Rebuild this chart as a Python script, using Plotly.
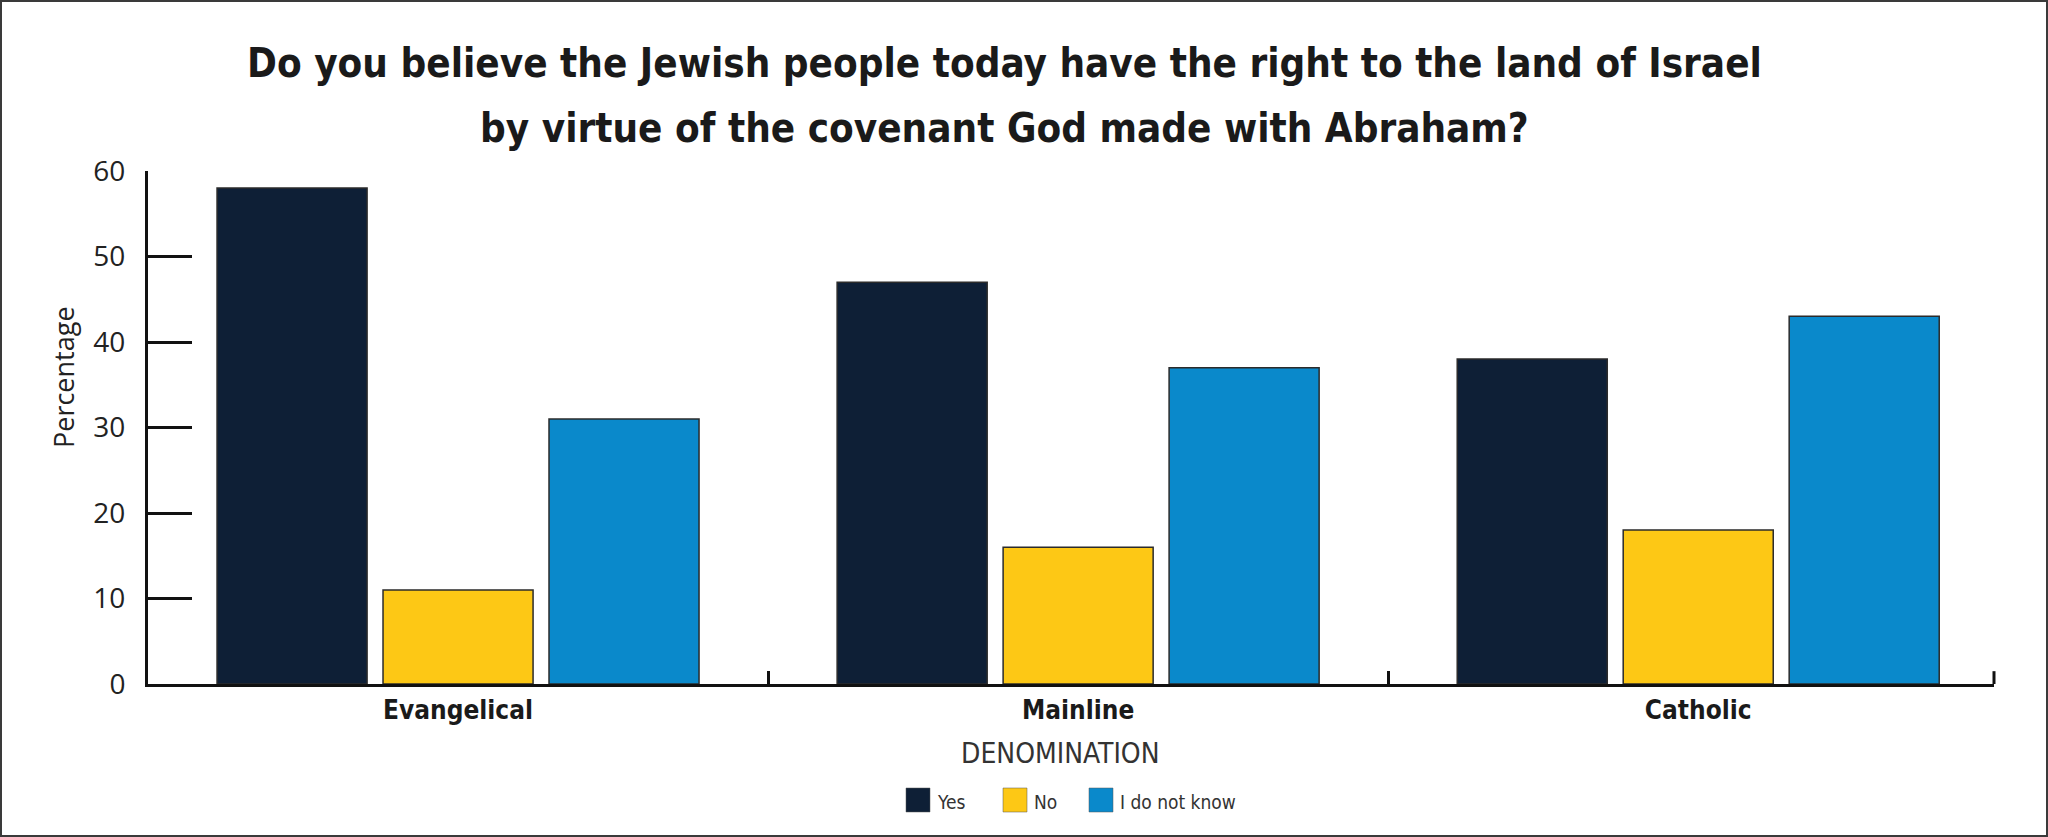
import plotly.graph_objects as go

# ---- data ----
categories = ["Evangelical", "Mainline", "Catholic"]
series_names = ["Yes", "No", "I do not know"]
yes_values = [58, 47, 38]
no_values = [11, 16, 18]
dont_know_values = [31, 37, 43]
y_ticks = [0, 10, 20, 30, 40, 50, 60]
title_lines = [
    "Do you believe the Jewish people today have the right to the land of Israel",
    "by virtue of the covenant God made with Abraham?",
]
x_title = "DENOMINATION"
y_title = "Percentage"

colors = ["#0e1f36", "#fdc815", "#0a89cb"]

# ---- layout geometry (pixels) ----
W, H = 2048, 837
L, R, T, B = 148, 54, 171, 153
PW, PH = W - L - R, H - T - B
X_RANGE = [-0.5, 2.477]


def px(x):
    return (x - L) / PW


def py(y):
    return (H - B - y) / PH


fig = go.Figure()
for name, vals, col in zip(series_names, [yes_values, no_values, dont_know_values], colors):
    fig.add_trace(go.Bar(
        name=name, x=categories, y=vals,
        marker=dict(color=col, line=dict(color="#2b2b2b", width=1.5)),
        showlegend=False,
    ))

cond_font = "DejaVu Sans Condensed, sans-serif"
reg_font = "Open Sans, Noto Sans, sans-serif"

annotations = []
# title lines
for line, yc in zip(title_lines, [63, 128]):
    annotations.append(dict(
        text="<b>" + line + "</b>", xref="paper", yref="paper",
        x=px(1004), y=py(yc), xanchor="center", yanchor="middle",
        showarrow=False, font=dict(family=cond_font, size=40, color="#1a1a1a"),
    ))
# axis titles
annotations.append(dict(
    text=x_title, xref="paper", yref="paper", x=px(1060), y=py(754),
    xanchor="center", yanchor="middle", showarrow=False,
    font=dict(family=cond_font, size=28, color="#333333"),
))
annotations.append(dict(
    text=y_title, xref="paper", yref="paper", x=px(63), y=py(377),
    xanchor="center", yanchor="middle", showarrow=False, textangle=-90,
    font=dict(family=reg_font, size=27, color="#222222"),
))

shapes = []
# custom legend with large swatches
legend_x = [906, 1003, 1089]
for name, col, lx in zip(series_names, colors, legend_x):
    shapes.append(dict(
        type="rect", xref="paper", yref="paper",
        x0=px(lx), x1=px(lx + 24), y0=py(812), y1=py(788),
        fillcolor=col, line=dict(color="#555555", width=0.5),
    ))
    annotations.append(dict(
        text=name, xref="paper", yref="paper", x=px(lx + 29), y=py(802),
        xanchor="left", yanchor="middle", showarrow=False,
        font=dict(family=cond_font, size=19, color="#333333"),
    ))
# closing tick at the right end of the x axis
shapes.append(dict(
    type="line", xref="paper", yref="y", x0=1, x1=1, y0=0, y1=1.5,
    line=dict(color="#111111", width=3),
))
# outer frame
shapes.append(dict(
    type="rect", xref="paper", yref="paper",
    x0=px(1), x1=px(W - 1), y0=py(H - 1), y1=py(1),
    line=dict(color="#3a3a3a", width=2), fillcolor="rgba(0,0,0,0)", layer="above",
))

fig.update_layout(
    width=W, height=H,
    margin=dict(l=L, r=R, t=T, b=B, pad=0),
    paper_bgcolor="white", plot_bgcolor="white",
    barmode="group", bargap=0.197, bargroupgap=0.096,
    showlegend=False,
    annotations=annotations, shapes=shapes,
    xaxis=dict(
        type="category", range=X_RANGE,
        showline=True, linecolor="#111111", linewidth=3,
        ticks="inside", tickson="boundaries", ticklen=13, tickwidth=3, tickcolor="#111111",
        showgrid=False, zeroline=False,
        tickfont=dict(family=cond_font, size=26, color="#1a1a1a", weight="bold"),
        ticklabelstandoff=1,
    ),
    yaxis=dict(
        range=[0, 60], tickvals=y_ticks,
        showline=True, linecolor="#111111", linewidth=3,
        ticks="inside", ticklen=44, tickwidth=3, tickcolor="#111111",
        showgrid=False, zeroline=False,
        tickfont=dict(family=reg_font, size=28, color="#222222"),
        ticklabelstandoff=14,
    ),
)

fig.write_html(
    "out.html",
    config={"displayModeBar": False},
    post_script="document.body.style.margin='0';document.body.style.overflow='hidden';",
)
